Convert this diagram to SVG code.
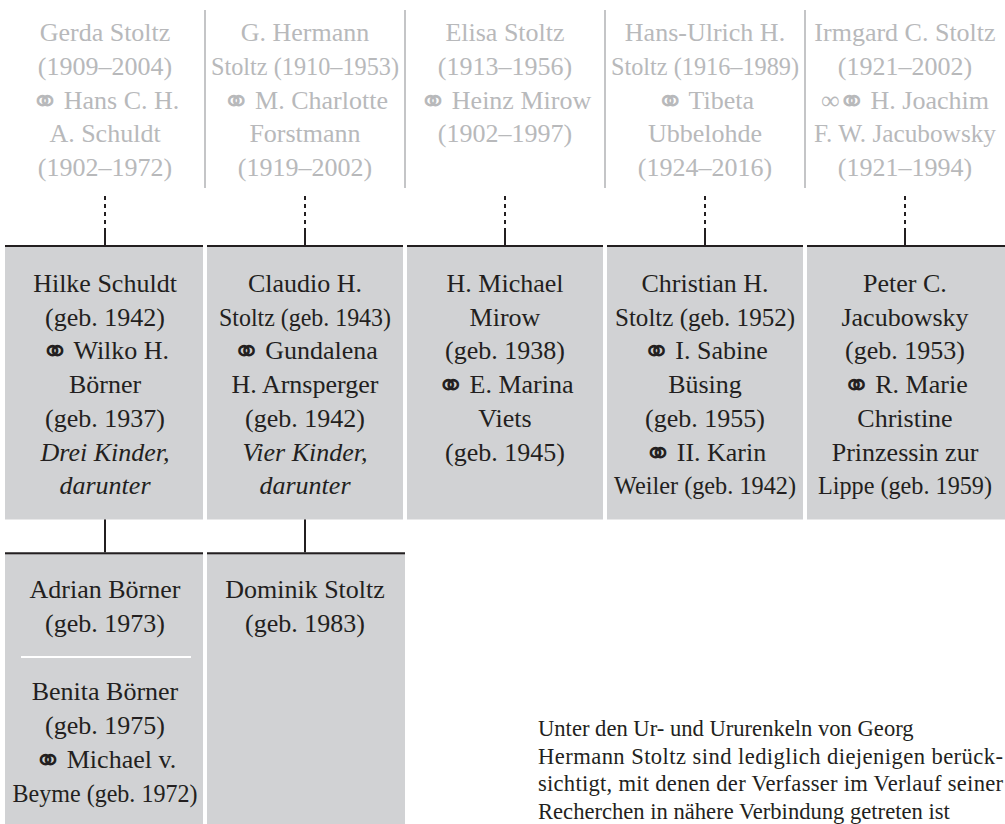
<svg xmlns="http://www.w3.org/2000/svg" width="1005" height="824" viewBox="0 0 1005 824">
<defs>
<style>
text{font-family:"Liberation Serif","DejaVu Serif","DejaVu Sans",serif;font-size:26px;text-anchor:middle}
.g{fill:#b8b9bb}
.k{fill:#231f20}
.it{font-style:italic}
.box{fill:#d1d2d4}
.sep{stroke:#c4c5c7;stroke-width:2}
.bar{fill:#231f20}
.conn{stroke:#231f20;stroke-width:2;fill:none}
.dash{stroke-dasharray:4 4}
.sym{font-family:"DejaVu Sans",sans-serif;font-size:34px}
.p{font-size:22.6px;text-anchor:start;fill:#231f20}
.div{stroke:#ffffff;stroke-width:2}
</style>
</defs>
<rect width="1005" height="824" fill="#ffffff"/>

<g id="separators">
<line class="sep" x1="205" y1="10" x2="205" y2="188"/>
<line class="sep" x1="405" y1="10" x2="405" y2="188"/>
<line class="sep" x1="605" y1="10" x2="605" y2="188"/>
<line class="sep" x1="805" y1="10" x2="805" y2="188"/>
</g>

<g id="parent-1" class="g">
<text x="105" y="40.7">Gerda Stoltz</text>
<text x="105" y="74.6">(1909–2004)</text>
<text x="105" y="108.5"><tspan class="sym" dy="4">⚭</tspan><tspan dy="-4" dx="-2"> Hans C. H.</tspan></text>
<text x="105" y="142.4">A. Schuldt</text>
<text x="105" y="176.3">(1902–1972)</text>
</g>
<g id="parent-2" class="g">
<text x="305" y="40.7">G. Hermann</text>
<text x="305" y="74.6" textLength="188" lengthAdjust="spacingAndGlyphs">Stoltz (1910–1953)</text>
<text x="305" y="108.5"><tspan class="sym" dy="4">⚭</tspan><tspan dy="-4" dx="-2"> M. Charlotte</tspan></text>
<text x="305" y="142.4">Forstmann</text>
<text x="305" y="176.3">(1919–2002)</text>
</g>
<g id="parent-3" class="g">
<text x="505" y="40.7">Elisa Stoltz</text>
<text x="505" y="74.6">(1913–1956)</text>
<text x="505" y="108.5"><tspan class="sym" dy="4">⚭</tspan><tspan dy="-4" dx="-2"> Heinz Mirow</tspan></text>
<text x="505" y="142.4">(1902–1997)</text>
</g>
<g id="parent-4" class="g">
<text x="705" y="40.7">Hans-Ulrich H.</text>
<text x="705" y="74.6" textLength="188" lengthAdjust="spacingAndGlyphs">Stoltz (1916–1989)</text>
<text x="705" y="108.5"><tspan class="sym" dy="4">⚭</tspan><tspan dy="-4" dx="-2"> Tibeta</tspan></text>
<text x="705" y="142.4">Ubbelohde</text>
<text x="705" y="176.3">(1924–2016)</text>
</g>
<g id="parent-5" class="g">
<text x="905" y="40.7">Irmgard C. Stoltz</text>
<text x="905" y="74.6">(1921–2002)</text>
<text x="905" y="108.5">∞<tspan class="sym" dy="4" dx="-2">⚭</tspan><tspan dy="-4" dx="-2"> H. Joachim</tspan></text>
<text x="905" y="142.4" textLength="182" lengthAdjust="spacingAndGlyphs">F. W. Jacubowsky</text>
<text x="905" y="176.3">(1921–1994)</text>
</g>

<g id="connectors">
<line class="conn dash" x1="105" y1="196" x2="105" y2="228"/>
<line class="conn" x1="105" y1="228" x2="105" y2="246"/>
<line class="conn dash" x1="305" y1="196" x2="305" y2="228"/>
<line class="conn" x1="305" y1="228" x2="305" y2="246"/>
<line class="conn dash" x1="505" y1="196" x2="505" y2="228"/>
<line class="conn" x1="505" y1="228" x2="505" y2="246"/>
<line class="conn dash" x1="705" y1="196" x2="705" y2="228"/>
<line class="conn" x1="705" y1="228" x2="705" y2="246"/>
<line class="conn dash" x1="905" y1="196" x2="905" y2="228"/>
<line class="conn" x1="905" y1="228" x2="905" y2="246"/>
<line class="conn" x1="105" y1="519" x2="105" y2="553"/>
<line class="conn" x1="305" y1="519" x2="305" y2="553"/>
</g>

<g id="child-1">
<rect class="box" x="5" y="245" width="198" height="274.5"/>
<rect class="bar" x="5" y="245" width="198" height="2"/>
<text class="k" x="105" y="292">Hilke Schuldt</text>
<text class="k" x="105" y="325.7">(geb. 1942)</text>
<text class="k" x="105" y="359.4"><tspan class="sym" dy="4">⚭</tspan><tspan dy="-4" dx="-2"> Wilko H.</tspan></text>
<text class="k" x="105" y="393.1">Börner</text>
<text class="k" x="105" y="426.8">(geb. 1937)</text>
<text class="k it" x="105" y="460.5">Drei Kinder,</text>
<text class="k it" x="105" y="494.2">darunter</text>
</g>
<g id="child-2">
<rect class="box" x="207" y="245" width="196" height="274.5"/>
<rect class="bar" x="207" y="245" width="196" height="2"/>
<text class="k" x="305" y="292">Claudio H.</text>
<text class="k" x="305" y="325.7" textLength="172" lengthAdjust="spacingAndGlyphs">Stoltz (geb. 1943)</text>
<text class="k" x="305" y="359.4"><tspan class="sym" dy="4">⚭</tspan><tspan dy="-4" dx="-2"> Gundalena</tspan></text>
<text class="k" x="305" y="393.1">H. Arnsperger</text>
<text class="k" x="305" y="426.8">(geb. 1942)</text>
<text class="k it" x="305" y="460.5">Vier Kinder,</text>
<text class="k it" x="305" y="494.2">darunter</text>
</g>
<g id="child-3">
<rect class="box" x="407" y="245" width="196" height="274.5"/>
<rect class="bar" x="407" y="245" width="196" height="2"/>
<text class="k" x="505" y="292">H. Michael</text>
<text class="k" x="505" y="325.7">Mirow</text>
<text class="k" x="505" y="359.4">(geb. 1938)</text>
<text class="k" x="505" y="393.1"><tspan class="sym" dy="4">⚭</tspan><tspan dy="-4" dx="-2"> E. Marina</tspan></text>
<text class="k" x="505" y="426.8">Viets</text>
<text class="k" x="505" y="460.5">(geb. 1945)</text>
</g>
<g id="child-4">
<rect class="box" x="607" y="245" width="196" height="274.5"/>
<rect class="bar" x="607" y="245" width="196" height="2"/>
<text class="k" x="705" y="292">Christian H.</text>
<text class="k" x="705" y="325.7" textLength="180" lengthAdjust="spacingAndGlyphs">Stoltz (geb. 1952)</text>
<text class="k" x="705" y="359.4"><tspan class="sym" dy="4">⚭</tspan><tspan dy="-4" dx="-2"> I. Sabine</tspan></text>
<text class="k" x="705" y="393.1">Büsing</text>
<text class="k" x="705" y="426.8">(geb. 1955)</text>
<text class="k" x="705" y="460.5"><tspan class="sym" dy="4">⚭</tspan><tspan dy="-4" dx="-2"> II. Karin</tspan></text>
<text class="k" x="705" y="494.2" textLength="182" lengthAdjust="spacingAndGlyphs">Weiler (geb. 1942)</text>
</g>
<g id="child-5">
<rect class="box" x="807" y="245" width="198" height="274.5"/>
<rect class="bar" x="807" y="245" width="198" height="2"/>
<text class="k" x="905" y="292">Peter C.</text>
<text class="k" x="905" y="325.7">Jacubowsky</text>
<text class="k" x="905" y="359.4">(geb. 1953)</text>
<text class="k" x="905" y="393.1"><tspan class="sym" dy="4">⚭</tspan><tspan dy="-4" dx="-2"> R. Marie</tspan></text>
<text class="k" x="905" y="426.8">Christine</text>
<text class="k" x="905" y="460.5">Prinzessin zur</text>
<text class="k" x="905" y="494.2" textLength="174" lengthAdjust="spacingAndGlyphs">Lippe (geb. 1959)</text>
</g>

<g id="grandchild-1">
<rect class="box" x="5" y="552.3" width="198" height="272"/>
<rect class="bar" x="5" y="552.3" width="198" height="2"/>
<text class="k" x="105" y="598">Adrian Börner</text>
<text class="k" x="105" y="632">(geb. 1973)</text>
<line class="div" x1="21" y1="657" x2="191" y2="657"/>
<text class="k" x="105" y="700">Benita Börner</text>
<text class="k" x="105" y="734">(geb. 1975)</text>
<text class="k" x="105" y="768"><tspan class="sym" dy="4">⚭</tspan><tspan dy="-4" dx="-2"> Michael v.</tspan></text>
<text class="k" x="105" y="801.7" textLength="185" lengthAdjust="spacingAndGlyphs">Beyme (geb. 1972)</text>
</g>
<g id="grandchild-2">
<rect class="box" x="207" y="552.3" width="198" height="272"/>
<rect class="bar" x="207" y="552.3" width="198" height="2"/>
<text class="k" x="305" y="598">Dominik Stoltz</text>
<text class="k" x="305" y="632">(geb. 1983)</text>
</g>

<g id="note">
<text class="p" x="538" y="736">Unter den Ur- und Ururenkeln von Georg</text>
<text class="p" x="538" y="763.5" textLength="465" lengthAdjust="spacing">Hermann Stoltz sind lediglich diejenigen berück-</text>
<text class="p" x="538" y="791" textLength="465" lengthAdjust="spacing">sichtigt, mit denen der Verfasser im Verlauf seiner</text>
<text class="p" x="538" y="818.5">Recherchen in nähere Verbindung getreten ist</text>
</g>
</svg>
